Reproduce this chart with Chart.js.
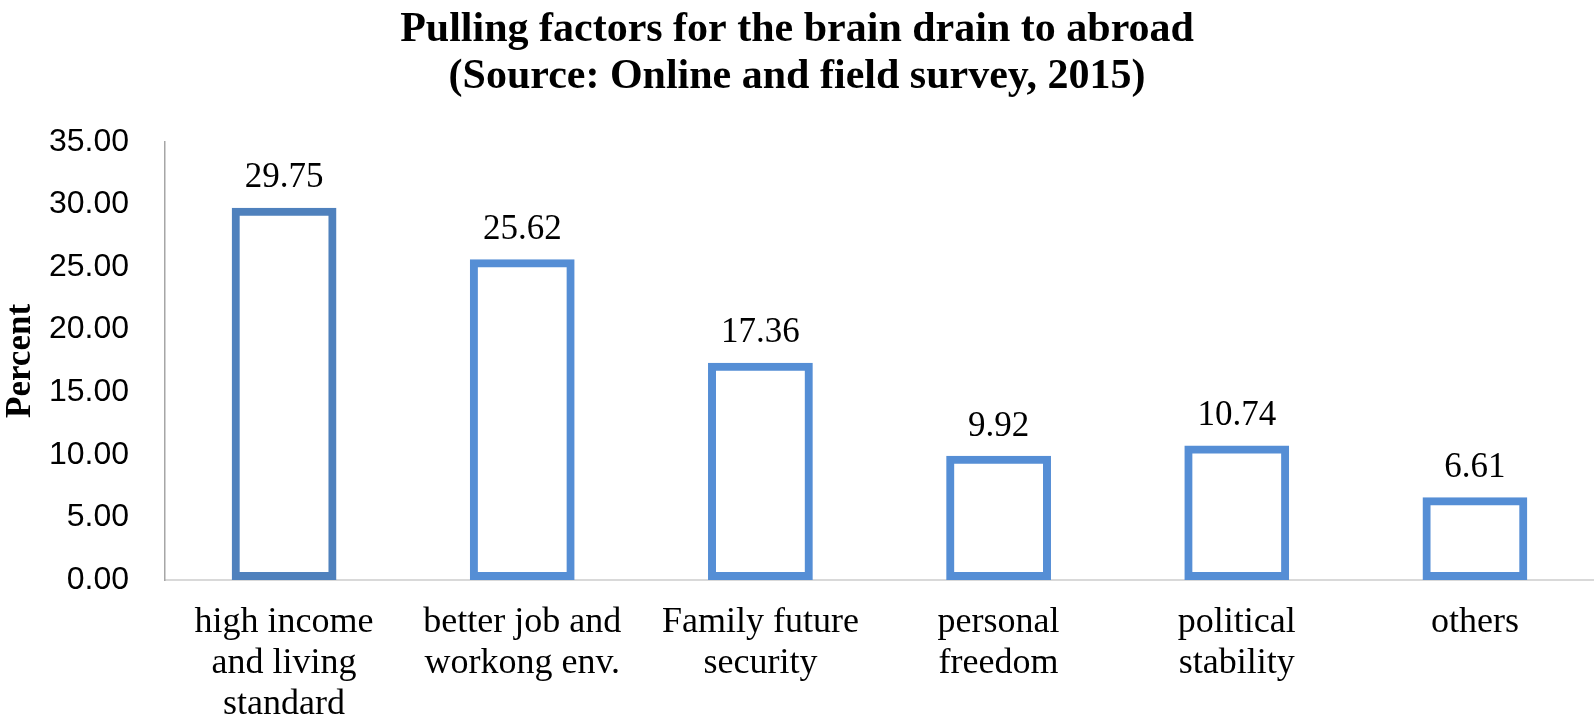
<!DOCTYPE html>
<html>
<head>
<meta charset="utf-8">
<script src="https://cdn.jsdelivr.net/npm/chart.js@4/dist/chart.umd.min.js"></script>
<style>
  body { margin: 0; background: #fff; }
  #wrap { width: 1594px; height: 728px; }
</style>
</head>
<body>
<div id="wrap"><canvas id="chart" width="1594" height="728"></canvas></div>
<script>
// data
const categories = [
  ['high income', 'and living', 'standard'],
  ['better job and', 'workong env.'],
  ['Family future', 'security'],
  ['personal', 'freedom'],
  ['political', 'stability'],
  ['others']
];
const percents = [29.75, 25.62, 17.36, 9.92, 10.74, 6.61];
const yTicks = [0, 5, 10, 15, 20, 25, 30, 35];
const barColors = ['#4f81bd', '#558ed5', '#558ed5', '#558ed5', '#558ed5', '#558ed5'];

// value labels over each bar
const valueLabels = {
  id: 'valueLabels',
  afterDatasetsDraw(chart) {
    const ctx = chart.ctx;
    const meta = chart.getDatasetMeta(0);
    ctx.save();
    ctx.font = '35px "Liberation Serif", "Times New Roman", serif';
    ctx.fillStyle = '#000';
    ctx.textAlign = 'center';
    ctx.textBaseline = 'bottom';
    meta.data.forEach((bar, i) => {
      ctx.fillText(percents[i].toFixed(2), bar.x, bar.y - 12);
    });
    ctx.restore();
  }
};

const ctx = document.getElementById('chart');
new Chart(ctx, {
  type: 'bar',
  data: {
    labels: categories,
    datasets: [{
      data: percents,
      backgroundColor: 'rgba(0,0,0,0)',
      borderColor: barColors,
      borderWidth: 8,
      borderSkipped: false,
      categoryPercentage: 1,
      barPercentage: 0.44
    }]
  },
  options: {
    responsive: false,
    animation: false,
    layout: { padding: { top: 0, right: 0, bottom: 0, left: 0 } },
    plugins: {
      legend: { display: false },
      tooltip: { enabled: false },
      title: {
        display: true,
        text: ['Pulling factors for the brain drain to abroad', '(Source: Online and field survey, 2015)'],
        color: '#000',
        font: { family: '"Liberation Serif", "Times New Roman", serif', size: 42, weight: 'bold', lineHeight: 1.13 },
        padding: { top: 6, bottom: 41 }
      }
    },
    scales: {
      x: {
        grid: { display: false, drawTicks: false },
        border: { color: '#d9d9d9', width: 2 },
        ticks: {
          color: '#000',
          maxRotation: 0,
          padding: 22,
          font: { family: '"Liberation Serif", "Times New Roman", serif', size: 36, lineHeight: 1.14 }
        },
        afterFit(scale) { scale.height = 148; }
      },
      y: {
        min: 0,
        max: 35,
        afterBuildTicks(scale) { scale.ticks = yTicks.map(v => ({ value: v })); },
        grid: { display: false, drawTicks: false },
        border: { color: '#a6a6a6', width: 1.5 },
        ticks: {
          color: '#000',
          padding: 36,
          font: { family: '"Liberation Sans", Arial, sans-serif', size: 32 },
          callback: v => Number(v).toFixed(2)
        },
        title: {
          display: true,
          text: 'Percent',
          color: '#000',
          font: { family: '"Liberation Serif", "Times New Roman", serif', size: 35, weight: 'bold' },
          padding: { top: 0, bottom: 0 }
        },
        afterFit(scale) { scale.width = 165; }
      }
    }
  },
  plugins: [valueLabels]
});
</script>
</body>
</html>
